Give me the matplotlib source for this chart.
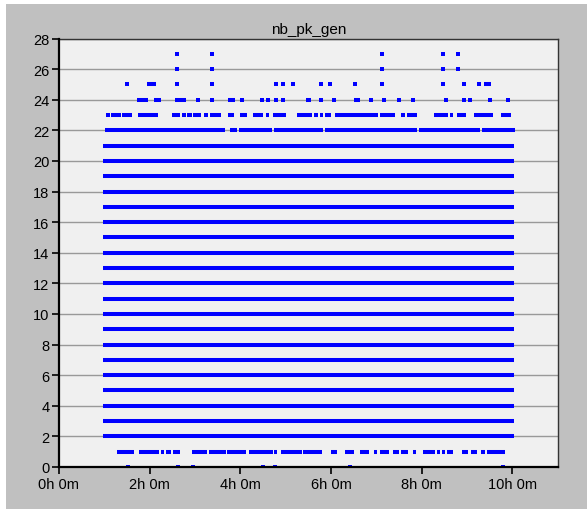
import matplotlib
matplotlib.use("Agg")
import matplotlib.pyplot as plt
from matplotlib.patches import Rectangle
from matplotlib.ticker import MultipleLocator, FuncFormatter

# times are in hours since start of the run
full_levels = list(range(2, 22))
full_start = 0.97
full_end = 10.04

# partial levels: runs of consecutive samples (start, end)
runs = {
    22: [(1.02, 3.67), (3.77, 3.92), (3.97, 4.70), (4.74, 5.83),
         (5.87, 7.90), (7.95, 9.29), (9.34, 10.05)],
    23: [(1.15, 1.37), (1.40, 1.62), (1.75, 2.18), (2.49, 2.68),
         (2.71, 2.80), (2.83, 2.93), (2.96, 3.14), (3.34, 3.58),
         (3.72, 3.87), (3.99, 4.14), (4.28, 4.51), (4.56, 4.64),
         (4.71, 5.00), (5.25, 5.58), (5.62, 5.71), (5.75, 5.83),
         (5.87, 6.00), (6.09, 7.03), (7.09, 7.42), (7.55, 7.64),
         (7.68, 7.90), (8.28, 8.58), (8.62, 8.70), (8.78, 8.98),
         (9.15, 9.58), (9.74, 9.96)],
    24: [(1.72, 1.96), (2.09, 2.24), (2.56, 2.80), (3.72, 3.89),
         (5.44, 5.56), (6.50, 6.64)],
    25: [(1.94, 2.15), (9.37, 9.54)],
    1: [(1.27, 1.65), (1.77, 2.21), (2.24, 2.32), (2.36, 2.48),
        (2.51, 2.67), (2.93, 3.26), (3.30, 3.68), (3.71, 4.12),
        (4.20, 4.71), (4.74, 4.81), (4.89, 5.36), (5.39, 5.80),
        (6.00, 6.14), (6.31, 6.50), (6.65, 6.83), (6.94, 7.01),
        (7.09, 7.27), (7.37, 7.51), (7.55, 7.70), (7.81, 7.88),
        (8.02, 8.30), (8.34, 8.41), (8.45, 8.51), (8.56, 8.70),
        (8.90, 9.03), (9.09, 9.22), (9.32, 9.40), (9.44, 9.83)],
}

# isolated samples
points = {
    27: [2.60, 3.38, 7.13, 8.47, 8.81],
    26: [2.60, 3.38, 7.13, 8.47, 8.81],
    25: [1.51, 2.60, 3.38, 4.79, 4.94, 5.17, 5.78, 5.97, 6.53, 7.13,
         8.47, 8.94, 9.26],
    24: [3.06, 3.38, 4.03, 4.47, 4.61, 4.79, 4.94, 5.78, 6.07, 6.88,
         7.16, 7.51, 7.81, 8.54, 8.94, 9.07, 9.50, 9.91],
    23: [1.08, 3.24],
    0: [1.53, 2.62, 2.96, 4.51, 4.77, 6.41, 9.79],
}

plt.rcParams['font.family'] = ['Liberation Sans', 'DejaVu Sans']

fig = plt.figure(figsize=(5.87, 5.10), dpi=100, facecolor='white')
fig.patches.append(Rectangle((6 / 587, 0), 1, 1 - 5 / 510,
                             transform=fig.transFigure,
                             facecolor='#c0c0c0', edgecolor='none', zorder=-10))
ax = fig.add_axes([0.1005, 0.0824, 0.8495, 0.8401])
ax.set_facecolor('#f0f0f0')

blue = '#0000ff'
lw = 2.9

for y in full_levels:
    ax.hlines(y, full_start, full_end, colors=blue, lw=lw,
              capstyle='butt', zorder=3)
for y, segs in runs.items():
    for a, b in segs:
        ax.hlines(y, a, b, colors=blue, lw=lw, capstyle='butt', zorder=3)
for y, ts in points.items():
    ax.plot(ts, [y] * len(ts), 's', color=blue, ms=2.9, mew=0,
            zorder=3)

ax.set_xlim(0, 11)
ax.set_ylim(0, 28)
ax.xaxis.set_major_locator(MultipleLocator(2))
ax.yaxis.set_major_locator(MultipleLocator(2))
ax.xaxis.set_major_formatter(FuncFormatter(lambda v, p: '%dh 0m' % int(round(v))))
ax.grid(axis='y', color='#999999', lw=1.0, zorder=1)
ax.set_axisbelow(True)

for side in ['left', 'bottom']:
    ax.spines[side].set_linewidth(1.6)
    ax.spines[side].set_color('black')
    ax.spines[side].set_zorder(4)
for side in ['top', 'right']:
    ax.spines[side].set_linewidth(1.0)
    ax.spines[side].set_color('#333333')

ax.tick_params(axis='both', direction='out', length=5, width=1.2,
               labelsize=10.5, colors='black', pad=2)
ax.set_title('nb_pk_gen', fontsize=11, pad=4)

fig.savefig('out.png', dpi=100, facecolor=fig.get_facecolor())
